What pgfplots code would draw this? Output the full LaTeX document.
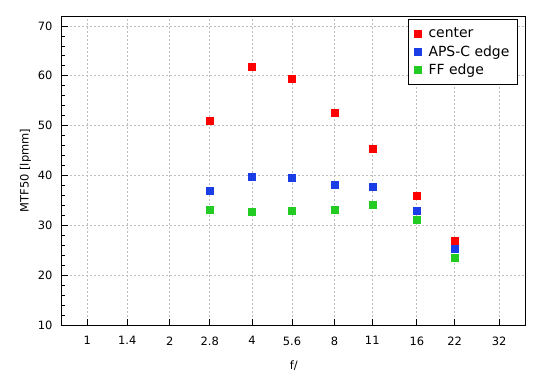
\documentclass[border=0pt]{standalone}
\usepackage{pgfplots}
\pgfplotsset{compat=1.18}
\usepackage{fontspec}
\setmainfont{DejaVu Sans}
\definecolor{cred}{HTML}{FF0000}
\definecolor{cblue}{HTML}{1A3DE6}
\definecolor{cgreen}{HTML}{22CC22}
\definecolor{cgrid}{HTML}{BEBEBE}
\begin{document}
\begin{tikzpicture}
\path[use as bounding box] (0,0) rectangle (550bp,380bp);
\begin{axis}[
  at={(62bp,55bp)}, anchor=south west,
  scale only axis, width=463.7bp, height=309bp,
  xmode=log, log basis x=2,
  xmin=0.808, xmax=40, ymin=10, ymax=72,
  xtick={1,1.4,2,2.8,4,5.6,8,11,16,22,32},
  xticklabels={1,1.4,2,2.8,4,5.6,8,11,16,22,32},
  ytick={10,20,30,40,50,60,70},
  minor ytick={12,14,16,18,22,24,26,28,32,34,36,38,42,44,46,48,52,54,56,58,62,64,66,68,72},
  xtick pos=bottom, ytick pos=left, tick align=inside,
  major tick length=6bp, minor tick length=3bp,
  tick style={black, line width=0.8bp},
  axis line style={black, line width=1bp},
  grid=major,
  major grid style={cgrid, dash pattern=on 2bp off 2bp, line width=0.7bp},
  minor grid style={draw=none},
  ticklabel style={font=\fontsize{11.5}{13}\selectfont},
  /pgf/number format/assume math mode=true,
  xticklabel style={yshift=-8bp},
  yticklabel style={xshift=-6bp},
  xlabel={f/}, ylabel={MTF50 [lpmm]},
  label style={font=\fontsize{11.5}{13}\selectfont},
  xlabel style={yshift=-9bp},
  ylabel style={yshift=0bp},
  legend style={at={(0.983,0.989)}, anchor=north east, draw=black, line width=0.8bp,
    font=\fontsize{14}{15}\selectfont, row sep=2.5bp, inner xsep=6bp, inner ysep=6bp,
    nodes={inner xsep=2bp}, cells={anchor=west},
    /tikz/every odd column/.append style={column sep=5bp}},
  legend cell align=left,
  only marks,
]
\addplot[mark=square*, mark size=3.5bp, color=cred] coordinates {
(2.8,50.9) (4,61.9) (5.6,59.5) (8,52.5) (11,45.45) (16,36.0) (22,27.0)};
\addlegendentry{center}
\addplot[mark=square*, mark size=3.5bp, color=cblue] coordinates {
(2.8,37.0) (4,39.8) (5.6,39.6) (8,38.2) (11,37.8) (16,33.0) (22,25.4)};
\addlegendentry{APS-C edge}
\addplot[mark=square*, mark size=3.5bp, color=cgreen] coordinates {
(2.8,33.2) (4,32.8) (5.6,33.0) (8,33.2) (11,34.2) (16,31.2) (22,23.6)};
\addlegendentry{FF edge}
\end{axis}
\end{tikzpicture}
\end{document}
